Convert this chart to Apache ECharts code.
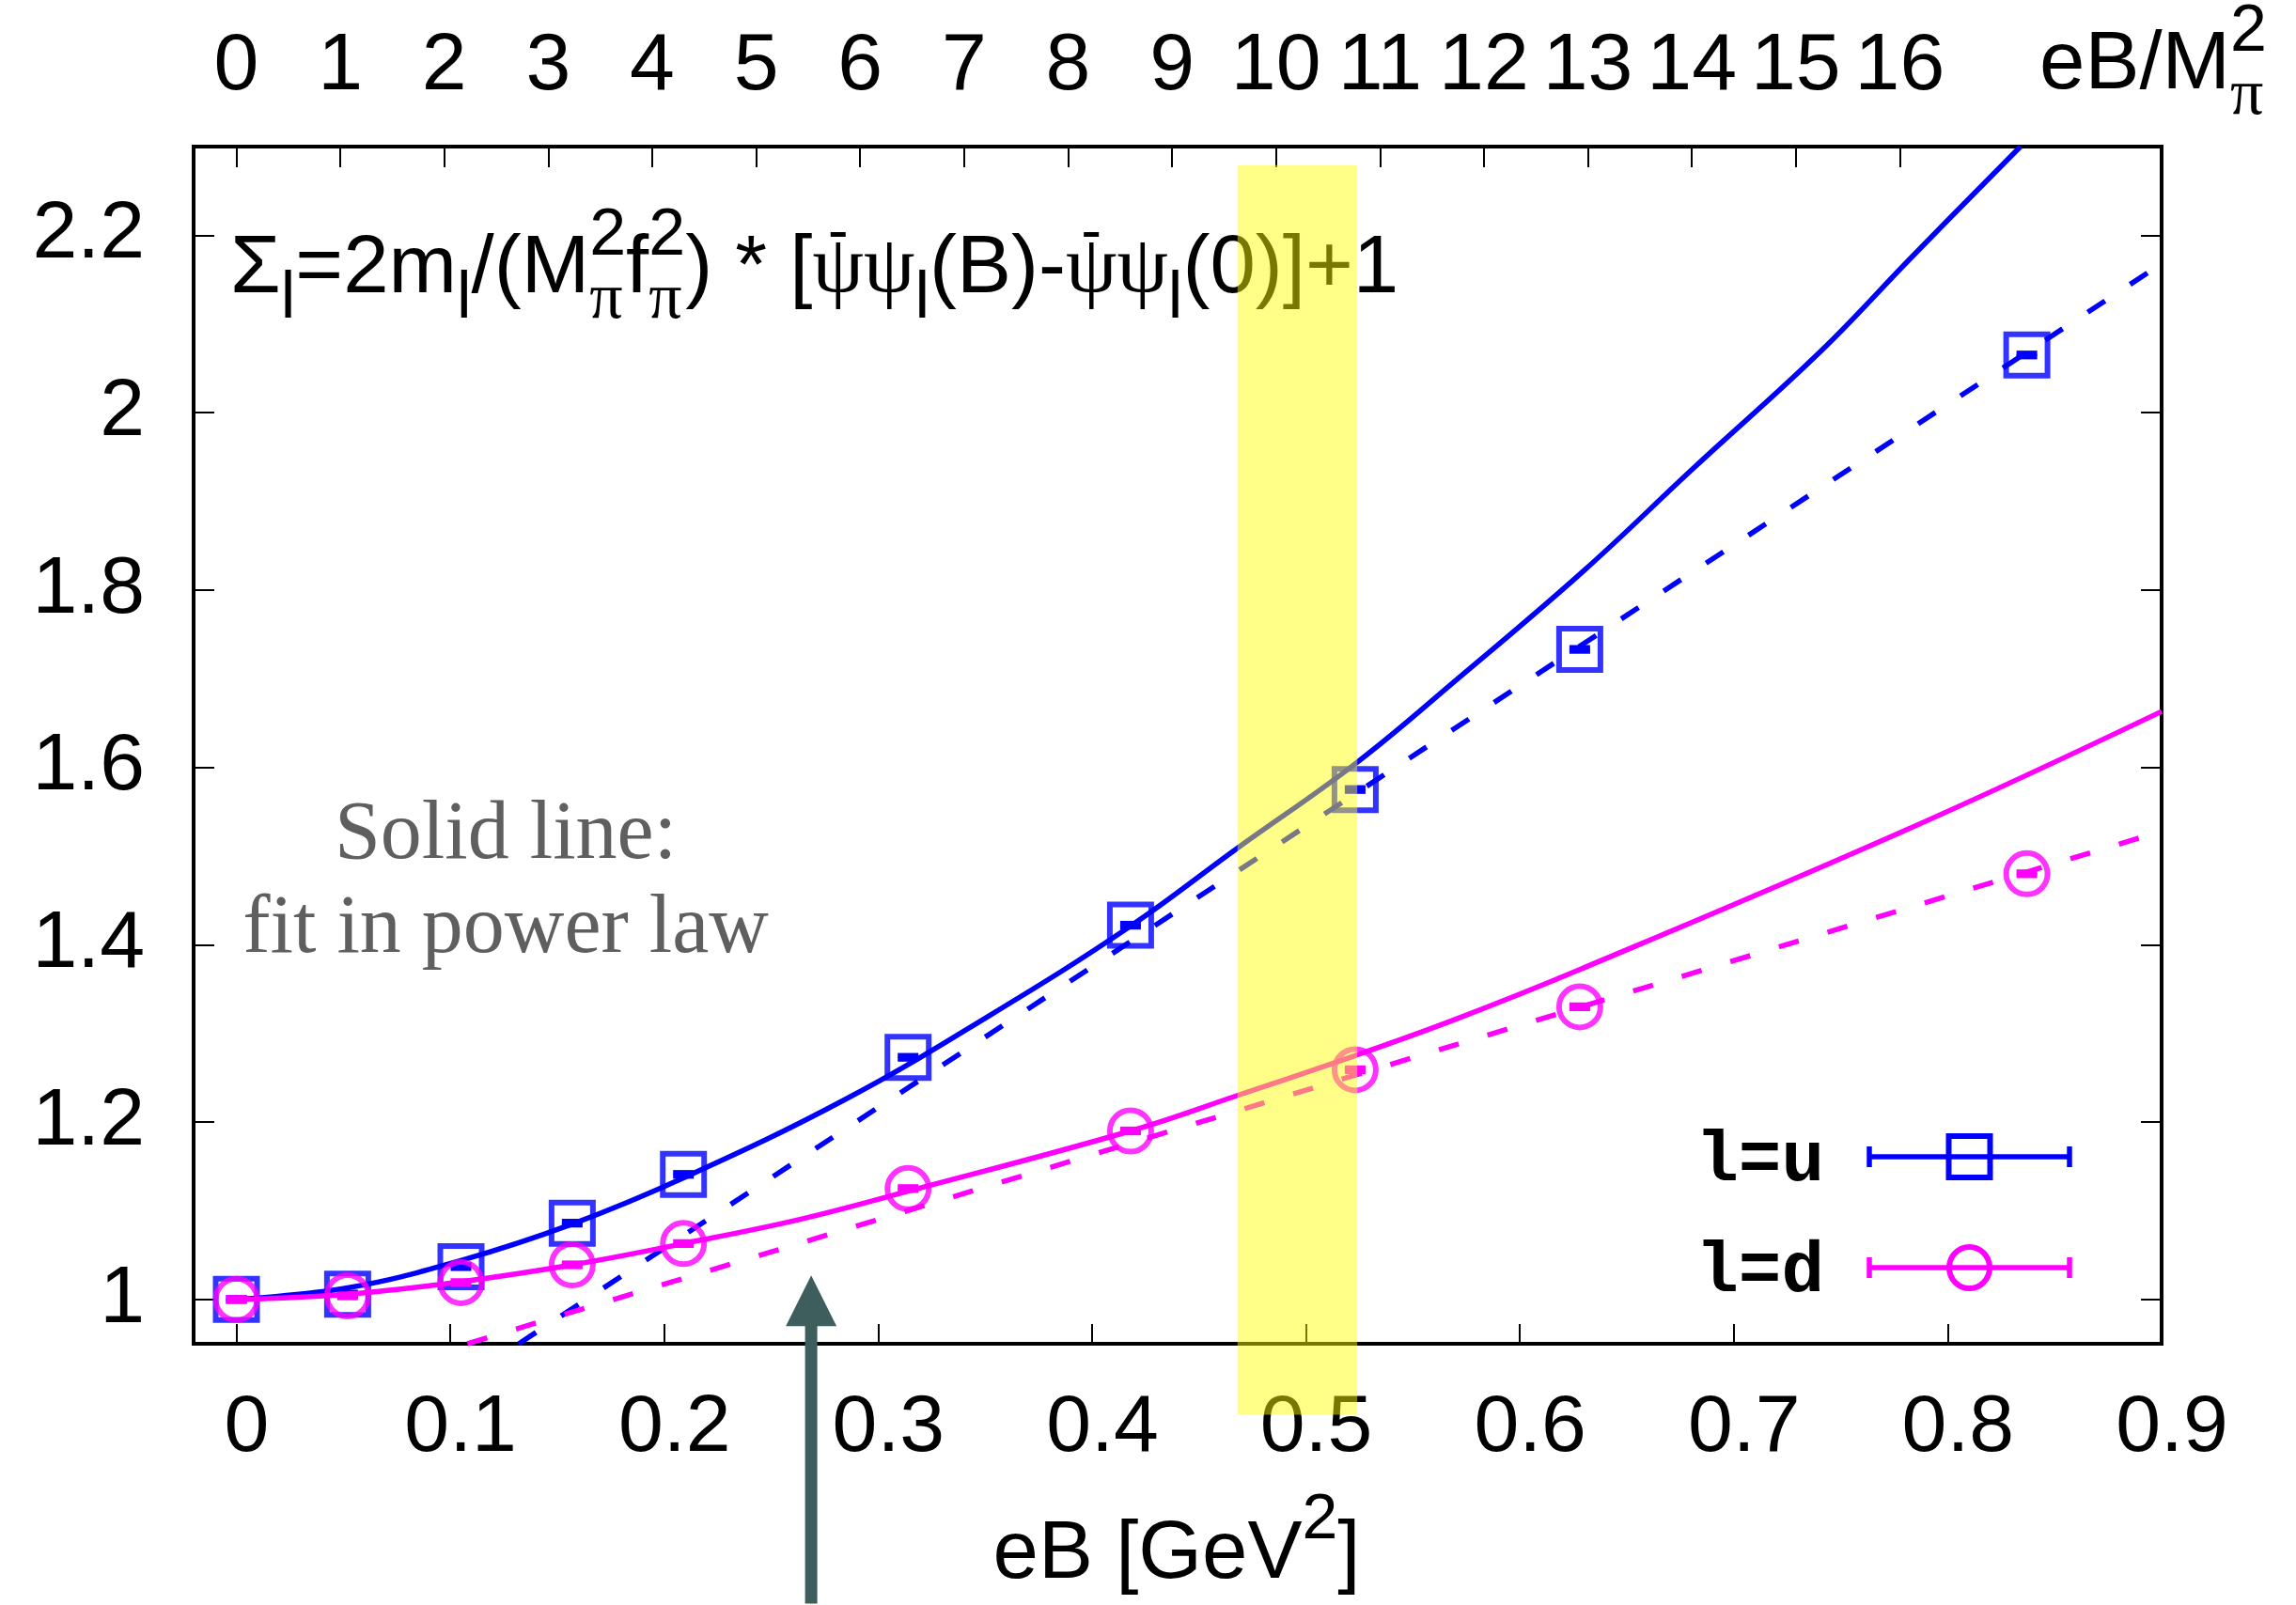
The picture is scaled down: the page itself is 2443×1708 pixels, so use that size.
<!DOCTYPE html>
<html>
<head>
<meta charset="utf-8">
<title>Sigma_l vs eB</title>
<script src="https://cdn.jsdelivr.net/npm/echarts@6/dist/echarts.min.js"></script>
<style>
  html, body { margin: 0; padding: 0; background: #ffffff; }
  #chart { width: 2443px; height: 1708px; }
</style>
</head>
<body>
<div id="chart"></div>
<script>
// magnetic field strengths of the ensembles, eB [GeV^2]
const eB = [0, 0.052, 0.105, 0.157, 0.209, 0.314, 0.418, 0.523, 0.628, 0.837];

// Sigma_u and Sigma_d with their (small) statistical errors
const sigmaU    = [1.000, 1.006, 1.037, 1.086, 1.141, 1.273, 1.422, 1.575, 1.733, 2.065];
const sigmaUErr = [0.002, 0.002, 0.002, 0.002, 0.002, 0.002, 0.002, 0.002, 0.002, 0.002];
const sigmaD    = [1.000, 1.004, 1.019, 1.039, 1.063, 1.125, 1.190, 1.259, 1.330, 1.480];
const sigmaDErr = [0.002, 0.002, 0.002, 0.002, 0.002, 0.002, 0.002, 0.002, 0.002, 0.002];

// power-law fit curves, sampled along eB
const fitUx = [0, 0.052, 0.105, 0.157, 0.209, 0.285, 0.352, 0.418, 0.468, 0.523, 0.570, 0.630, 0.681, 0.741, 0.783, 0.834];
const fitUy = [1.000, 1.013, 1.044, 1.085, 1.137, 1.226, 1.320, 1.421, 1.509, 1.604, 1.698, 1.822, 1.937, 2.070, 2.175, 2.300];
const fitDx = [0, 0.052, 0.105, 0.157, 0.209, 0.263, 0.314, 0.418, 0.468, 0.523, 0.570, 0.628, 0.783, 0.900];
const fitDy = [1.000, 1.006, 1.020, 1.039, 1.063, 1.090, 1.122, 1.190, 1.230, 1.275, 1.316, 1.372, 1.532, 1.663];

// linear fits at large eB (end points)
const linUx = [0.132, 0.900];
const linUy = [0.950, 2.168];
const linDx = [0.108, 0.900];
const linDy = [0.950, 1.528];

// axis ticks
const xTicks = [0, 0.1, 0.2, 0.3, 0.4, 0.5, 0.6, 0.7, 0.8, 0.9];
const yTicks = [1, 1.2, 1.4, 1.6, 1.8, 2, 2.2];
const topTicks = [0, 1, 2, 3, 4, 5, 6, 7, 8, 9, 10, 11, 12, 13, 14, 15, 16];
const mPi2 = 0.0486;            // M_pi^2 in GeV^2, converts eB to eB/M_pi^2
const xMin = -0.02, xMax = 0.9;
const yMin = 0.95, yMax = 2.3;

// highlighted eB window: [eB0, eB1, Sigma0, Sigma1]
const bandRange = [0.468, 0.524, 0.870, 2.279];
// arrow marker: [eB, tip, head base, tail]
const arrowMark = [0.2687, 1.027, 0.970, 0.657];

const BLUE = '#0000ff';
const MAGENTA = '#ff00ff';
const ARROW = '#3e5e5d';
const SANS = 'Liberation Sans';
const SERIF = 'Liberation Serif';
const LW = 5.5;                 // line width of curves, error bars and key samples

function pairs(xs, ys) { return xs.map((x, i) => [x, ys[i]]); }
function withErr(xs, ys, es) { return xs.map((x, i) => [x, ys[i] - es[i], ys[i] + es[i]]); }

function errorBars(color) {
  return function (params, api) {
    const lo = api.coord([api.value(0), api.value(1)]);
    const hi = api.coord([api.value(0), api.value(2)]);
    const half = 11;
    const st = { stroke: color, lineWidth: LW };
    return {
      type: 'group',
      children: [
        { type: 'line', shape: { x1: lo[0], y1: lo[1], x2: hi[0], y2: hi[1] }, style: st },
        { type: 'line', shape: { x1: lo[0] - half, y1: lo[1], x2: lo[0] + half, y2: lo[1] }, style: st },
        { type: 'line', shape: { x1: hi[0] - half, y1: hi[1], x2: hi[0] + half, y2: hi[1] }, style: st }
      ]
    };
  };
}

// ---- rich text helpers for sub/superscripts ----
// every token gets an explicit box height and vertical alignment inside a 100px line
const MAIN = 87, SMALL = 70;
const richStyles = {
  m:  { fontFamily: SANS, fontSize: MAIN, lineHeight: 100, height: 100, verticalAlign: 'middle', fill: '#000' },
  g:  { fontFamily: SERIF, fontSize: MAIN, lineHeight: 100, height: 100, verticalAlign: 'middle', fill: '#000' },
  sb: { fontFamily: SANS, fontSize: SMALL, lineHeight: 37, height: 37, verticalAlign: 'bottom', fill: '#000' },
  pb: { fontFamily: SERIF, fontSize: SMALL, lineHeight: 35, height: 35, verticalAlign: 'bottom', width: 0, fill: '#000' },
  sp: { fontFamily: SANS, fontSize: SMALL, lineHeight: 29, height: 29, verticalAlign: 'top', fill: '#000' },
  ss: { fontFamily: SANS, fontSize: 68, lineHeight: 27, height: 27, verticalAlign: 'top', fill: '#000' }
};
const measureCtx = document.createElement('canvas').getContext('2d');
function tokenWidth(style, text) {
  const st = richStyles[style];
  if (st.width === 0) return 0;
  measureCtx.font = st.fontSize + 'px ' + st.fontFamily;
  return measureCtx.measureText(text).width;
}
function richString(tokens) { return tokens.map(t => '{' + t[0] + '|' + t[1] + '}').join(''); }

// Sigma_l = 2 m_l/(M_pi^2 f_pi^2) * [psibar psi_l(B) - psibar psi_l(0)] + 1 ; third entry marks a barred psi
const formulaTokens = [
  ['m', 'Σ'], ['sb', 'l'], ['m', '=2m'], ['sb', 'l'], ['m', '/(M'], ['pb', 'π'], ['sp', '2'],
  ['m', 'f'], ['pb', 'π'], ['sp', '2'], ['m', ') * ['],
  ['g', 'ψ', true], ['g', 'ψ'], ['sb', 'l'], ['m', '(B)-'],
  ['g', 'ψ', true], ['g', 'ψ'], ['sb', 'l'], ['m', '(0)]+1']
];
const formulaX = 245, formulaY = 237;
const formulaGraphics = [{
  type: 'text', x: formulaX, y: formulaY, z: 1,
  style: { text: richString(formulaTokens), rich: richStyles, fill: '#000', align: 'left', verticalAlign: 'top' }
}];
let cursor = formulaX;
formulaTokens.forEach(t => {
  const w = tokenWidth(t[0], t[1]);
  if (t[2]) {
    formulaGraphics.push({
      type: 'rect', z: 1,
      shape: { x: cursor + w / 2 - 8, y: formulaY + 10, width: 16, height: 5 },
      style: { fill: '#000' }
    });
  }
  cursor += w;
});

const topNameTokens = [['m', 'eB/M'], ['pb', 'π'], ['sp', '2']];
const xNameTokens = [['m', 'eB [GeV'], ['ss', '2'], ['m', ']']];

const chart = echarts.init(document.getElementById('chart'), null, { renderer: 'canvas' });

// key: label, error-bar sample and point symbol for each flavour
const legendRows = [
  { label: 'l=u', y: 1231, color: BLUE, shape: 'rect' },
  { label: 'l=d', y: 1349, color: MAGENTA, shape: 'circle' }
];
const legendGraphics = [];
legendRows.forEach(r => {
  legendGraphics.push({
    type: 'text', x: 1941, y: r.y + 6, z: 20,
    style: { text: r.label, fontFamily: 'Liberation Mono', fontWeight: 'bold', fontSize: 76,
             fill: '#000', align: 'right', verticalAlign: 'middle' }
  });
  const ls = { stroke: r.color, lineWidth: LW };
  legendGraphics.push({ type: 'line', z: 20, shape: { x1: 1989, y1: r.y, x2: 2202, y2: r.y }, style: ls });
  legendGraphics.push({ type: 'line', z: 20, shape: { x1: 1989, y1: r.y - 11, x2: 1989, y2: r.y + 11 }, style: ls });
  legendGraphics.push({ type: 'line', z: 20, shape: { x1: 2202, y1: r.y - 11, x2: 2202, y2: r.y + 11 }, style: ls });
  if (r.shape === 'rect') {
    legendGraphics.push({ type: 'rect', z: 20, shape: { x: 2095.5 - 22, y: r.y - 22, width: 44, height: 44 },
                          style: { fill: 'none', stroke: r.color, lineWidth: 6 } });
  } else {
    legendGraphics.push({ type: 'ellipse', z: 20, shape: { cx: 2095.5, cy: r.y, rx: 21.5, ry: 22 },
                          style: { fill: 'none', stroke: r.color, lineWidth: 6 } });
  }
});

function tickAxis(extra) {
  return Object.assign({
    type: 'value',
    axisLine: { show: false, onZero: false },
    splitLine: { show: false }
  }, extra);
}

const option = {
  animation: false,
  backgroundColor: '#ffffff',
  textStyle: { fontFamily: SANS, color: '#000' },
  grid: {
    left: 206, right: 143, top: 156, bottom: 278,
    show: true, borderColor: '#000', borderWidth: 4, backgroundColor: 'transparent',
    containLabel: false, outerBoundsMode: 'none'
  },
  xAxis: [
    tickAxis({
      position: 'bottom', min: xMin, max: xMax,
      axisTick: { show: true, inside: true, length: 21, customValues: xTicks, lineStyle: { color: '#000', width: 2 } },
      axisLabel: { show: true, customValues: xTicks, margin: 47, fontSize: 86, fontFamily: SANS, color: '#000',
                   padding: [0, 0, 0, 22], formatter: v => String(v) }
    }),
    tickAxis({
      position: 'top', min: xMin / mPi2, max: xMax / mPi2,
      axisTick: { show: true, inside: true, length: 22, customValues: topTicks, lineStyle: { color: '#000', width: 2 } },
      axisLabel: { show: true, customValues: topTicks, margin: 42, fontSize: 86, fontFamily: SANS, color: '#000',
                   formatter: v => String(v) }
    })
  ],
  yAxis: [
    tickAxis({
      position: 'left', min: yMin, max: yMax,
      axisTick: { show: true, inside: true, length: 22, customValues: yTicks, lineStyle: { color: '#000', width: 2 } },
      axisLabel: { show: true, customValues: yTicks, margin: 52, fontSize: 86, fontFamily: SANS, color: '#000',
                   formatter: v => String(v) }
    }),
    tickAxis({
      position: 'right', min: yMin, max: yMax,
      axisTick: { show: true, inside: true, length: 22, customValues: yTicks, lineStyle: { color: '#000', width: 2 } },
      axisLabel: { show: false }
    })
  ],
  series: [
    {
      name: 'power-law fit u', type: 'line', data: pairs(fitUx, fitUy),
      symbol: 'none', smooth: 0.4, z: 2, silent: true,
      lineStyle: { color: BLUE, width: LW }
    },
    {
      name: 'linear fit u', type: 'line', data: pairs(linUx, linUy),
      symbol: 'none', z: 2, silent: true,
      lineStyle: { color: BLUE, width: LW, type: [22, 32] }
    },
    {
      name: 'err u', type: 'custom', z: 3, silent: true,
      data: withErr(eB, sigmaU, sigmaUErr),
      renderItem: errorBars(BLUE)
    },
    {
      name: 'l=u', type: 'scatter', data: pairs(eB, sigmaU), z: 3,
      symbol: 'rect', symbolSize: 44,
      itemStyle: { color: 'transparent', borderColor: BLUE, borderWidth: 6 }
    },
    {
      name: 'power-law fit d', type: 'line', data: pairs(fitDx, fitDy),
      symbol: 'none', smooth: 0.4, z: 4, silent: true,
      lineStyle: { color: MAGENTA, width: LW }
    },
    {
      name: 'linear fit d', type: 'line', data: pairs(linDx, linDy),
      symbol: 'none', z: 4, silent: true,
      lineStyle: { color: MAGENTA, width: LW, type: [22, 32] }
    },
    {
      name: 'err d', type: 'custom', z: 5, silent: true,
      data: withErr(eB, sigmaD, sigmaDErr),
      renderItem: errorBars(MAGENTA)
    },
    {
      name: 'l=d', type: 'scatter', data: pairs(eB, sigmaD), z: 5,
      symbol: 'circle', symbolSize: 44,
      itemStyle: { color: 'transparent', borderColor: MAGENTA, borderWidth: 6 }
    },
    {
      name: 'arrow', type: 'custom', z: 8, clip: false, silent: true,
      dimensions: ['x', 'tip', 'base', 'tail'],
      encode: { x: 0, y: [1, 2, 3] },
      data: [arrowMark],
      renderItem: function (params, api) {
        const x = api.value(0);
        const tip = api.coord([x, api.value(1)]);
        const base = api.coord([x, api.value(2)]);
        const tail = api.coord([x, api.value(3)]);
        return {
          type: 'group',
          children: [
            { type: 'rect', shape: { x: tip[0] - 6.5, y: base[1] - 2, width: 13, height: tail[1] - base[1] + 2 },
              style: { fill: ARROW } },
            { type: 'polygon', shape: { points: [[tip[0], tip[1]], [tip[0] - 27, base[1]], [tip[0] + 27, base[1]]] },
              style: { fill: ARROW } }
          ]
        };
      }
    },
    {
      name: 'band', type: 'custom', z: 10, clip: false, silent: true,
      dimensions: ['x0', 'x1', 'y0', 'y1'],
      encode: { x: [0, 1], y: [2, 3] },
      data: [bandRange],
      renderItem: function (params, api) {
        const a = api.coord([api.value(0), api.value(3)]);
        const b = api.coord([api.value(1), api.value(2)]);
        return {
          type: 'rect',
          shape: { x: a[0], y: a[1], width: b[0] - a[0], height: b[1] - a[1] },
          style: { fill: 'rgba(255,255,0,0.47)' }
        };
      }
    }
  ],
  graphic: formulaGraphics.concat([
    {
      type: 'text', x: 2170, y: 20, z: 1,
      style: { text: richString(topNameTokens), rich: richStyles, fill: '#000', align: 'left', verticalAlign: 'top' }
    },
    {
      type: 'text', x: 1252, y: 1605, z: 1,
      style: { text: richString(xNameTokens), rich: richStyles, fill: '#000', align: 'center', verticalAlign: 'top' }
    },
    {
      type: 'text', x: 538, y: 840, z: 1,
      style: {
        text: 'Solid line:\nfit in power law',
        fontFamily: SERIF, fontSize: 88, lineHeight: 100,
        fill: '#5f5f5f', align: 'center', verticalAlign: 'top'
      }
    }
  ]).concat(legendGraphics)
};

chart.setOption(option);
</script>
</body>
</html>
